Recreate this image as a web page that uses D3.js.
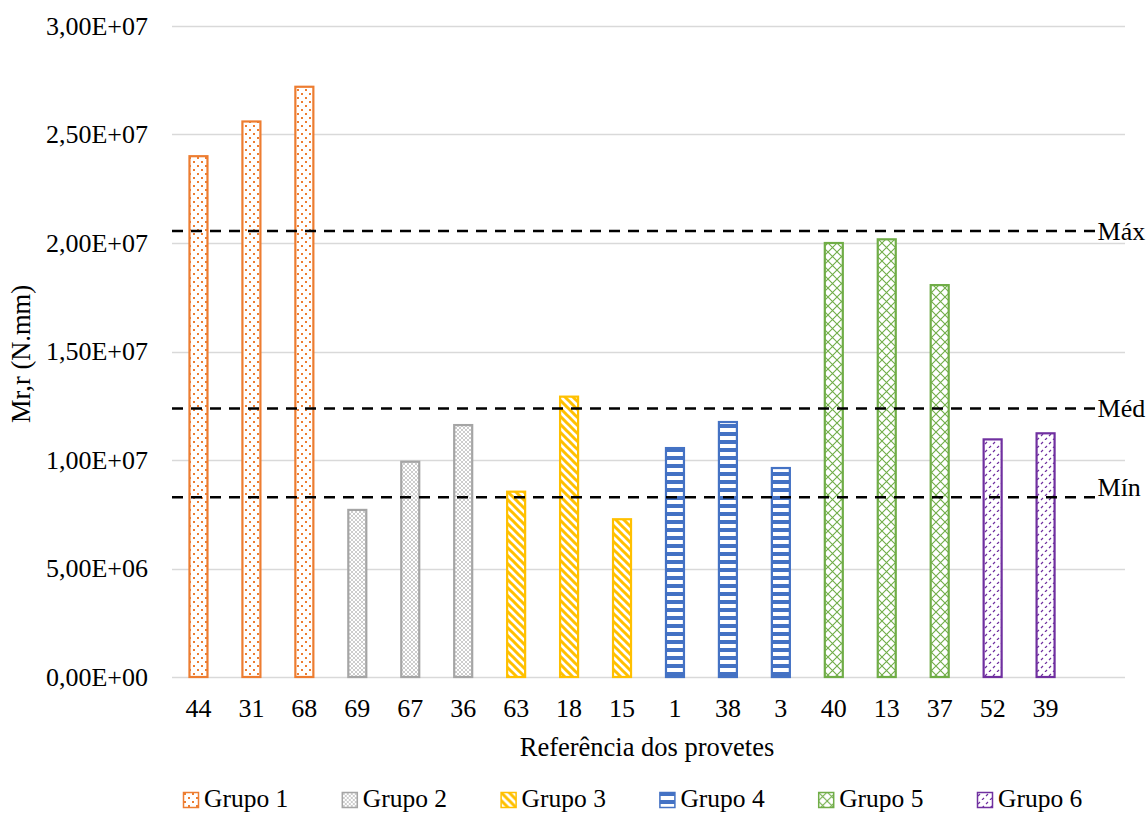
<!DOCTYPE html>
<html>
<head>
<meta charset="utf-8">
<script src="https://cdn.jsdelivr.net/npm/d3@7"></script>
<style>
  html, body { margin: 0; padding: 0; background: #fff; }
  svg text { font-family: "Liberation Serif", "Times New Roman", "DejaVu Serif", serif; }
</style>
</head>
<body>
<svg id="chart" width="1148" height="813"></svg>
<script>
// Specimen references (x axis), in plotting order
const categories = ["44", "31", "68", "69", "67", "36", "63", "18", "15", "1", "38", "3", "40", "13", "37", "52", "39"];
// Group index of each specimen (0..5)
const groupOf = [0, 0, 0, 1, 1, 1, 2, 2, 2, 3, 3, 3, 4, 4, 4, 5, 5];
// Mr,r values (N.mm)
const values = [2.40e7, 2.56e7, 2.72e7, 7.70e6, 9.92e6, 1.161e7, 8.54e6, 1.292e7, 7.27e6, 1.055e7, 1.175e7, 9.63e6, 2.00e7, 2.017e7, 1.806e7, 1.095e7, 1.123e7];
// Reference lines
const refNames = ["Máx", "Méd", "Mín"];
const refValues = [2.055e7, 1.237e7, 8.28e6];
// Groups
const groupNames = ["Grupo 1", "Grupo 2", "Grupo 3", "Grupo 4", "Grupo 5", "Grupo 6"];
const groupColors = ["#ED7D31", "#A5A5A5", "#FFC000", "#4472C4", "#70AD47", "#7030A0"];
// Y axis ticks
const yTicks = [0, 5e6, 1e7, 1.5e7, 2e7, 2.5e7, 3e7];
const yTickLabels = ["0,00E+00", "5,00E+06", "1,00E+07", "1,50E+07", "2,00E+07", "2,50E+07", "3,00E+07"];

(function draw() {
  const FS = 26;
  const svg = d3.select("#chart");
  const plotLeft = 172, plotRight = 1125, plotTop = 26, plotBottom = 677;

  // One extra empty slot at the end where the reference lines finish
  const x = d3.scaleBand().domain([...categories, ""]).range([plotLeft, plotRight]);
  const y = d3.scaleLinear().domain([0, 3e7]).range([plotBottom, plotTop]);
  const barW = 18;

  // Fill patterns per group
  const defs = svg.append("defs");
  function pattern(id, w, h, build) {
    const p = defs.append("pattern").attr("id", id).attr("patternUnits", "userSpaceOnUse")
      .attr("width", w).attr("height", h);
    p.append("rect").attr("width", w).attr("height", h).attr("fill", "#fff");
    build(p);
  }
  pattern("pg0", 8, 8, p => {
    p.append("rect").attr("x", 1).attr("y", 1).attr("width", 2).attr("height", 2).attr("fill", groupColors[0]);
    p.append("rect").attr("x", 5).attr("y", 5).attr("width", 2).attr("height", 2).attr("fill", groupColors[0]);
  });
  pattern("pg1", 4, 4, p => {
    p.append("path").attr("d", "M0,0L4,4M4,0L0,4").attr("stroke", "#B8B8B8").attr("stroke-width", 0.7);
  });
  pattern("pg2", 8, 8, p => {
    p.append("path").attr("d", "M-2,-2L10,10M-2,6L2,10M6,-2L10,2").attr("stroke", groupColors[2]).attr("stroke-width", 3);
  });
  pattern("pg3", 8, 8, p => {
    p.append("rect").attr("x", 0).attr("y", 0).attr("width", 8).attr("height", 4).attr("fill", groupColors[3]);
  });
  pattern("pg4", 9, 9, p => {
    p.append("path").attr("d", "M0,0L9,9M9,0L0,9").attr("stroke", groupColors[4]).attr("stroke-width", 1.1);
  });
  pattern("pg5", 8, 8, p => {
    p.append("path").attr("d", "M1,4L3,2M5,8L7,6").attr("stroke", groupColors[5]).attr("stroke-width", 1.2);
  });

  // Gridlines
  svg.append("g").selectAll("line").data(yTicks).join("line")
    .attr("x1", plotLeft).attr("x2", plotRight)
    .attr("y1", d => Math.round(y(d)) + 0.5).attr("y2", d => Math.round(y(d)) + 0.5)
    .attr("stroke", "#D9D9D9").attr("stroke-width", 1.3);

  // Y tick labels
  svg.append("g").selectAll("text").data(yTicks).join("text")
    .attr("x", 148).attr("y", d => y(d)).attr("dy", "0.33em")
    .attr("text-anchor", "end").attr("font-size", FS).attr("fill", "#000")
    .text((d, i) => yTickLabels[i]);

  // Bars
  svg.append("g").selectAll("rect").data(values).join("rect")
    .attr("x", (d, i) => x(categories[i]) + x.bandwidth() / 2 - barW / 2)
    .attr("width", barW)
    .attr("y", d => y(d))
    .attr("height", d => plotBottom - y(d))
    .attr("fill", (d, i) => `url(#pg${groupOf[i]})`)
    .attr("stroke", (d, i) => groupColors[groupOf[i]])
    .attr("stroke-width", 2.2);

  // X tick labels
  svg.append("g").selectAll("text").data(categories).join("text")
    .attr("x", d => x(d) + x.bandwidth() / 2).attr("y", 717)
    .attr("text-anchor", "middle").attr("font-size", FS).attr("fill", "#000")
    .text(d => d);

  // Reference lines
  const lineEnd = x("") + x.bandwidth() / 2;
  svg.append("g").selectAll("line").data(refValues).join("line")
    .attr("x1", plotLeft).attr("x2", lineEnd)
    .attr("y1", d => y(d)).attr("y2", d => y(d))
    .attr("stroke", "#000").attr("stroke-width", 2.6).attr("stroke-dasharray", "11,8");
  svg.append("g").selectAll("text").data(refValues).join("text")
    .attr("x", lineEnd - 1)
    .attr("y", (d, i) => i === 2 ? y(d) - 1 : y(d))
    .attr("dy", (d, i) => i === 2 ? "0" : "0.33em")
    .attr("font-size", FS).attr("fill", "#000")
    .text((d, i) => refNames[i]);

  // Axis titles
  svg.append("text").attr("x", 647).attr("y", 756).attr("text-anchor", "middle")
    .attr("font-size", 26.5).attr("fill", "#000").text("Referência dos provetes");
  svg.append("text").attr("transform", "translate(30,354) rotate(-90)").attr("text-anchor", "middle")
    .attr("font-size", 26.5).attr("fill", "#000").text("Mr,r (N.mm)");

  // Legend
  const legend = svg.append("g").selectAll("g").data(groupNames).join("g")
    .attr("transform", (d, i) => `translate(${183 + i * 158.8},0)`);
  legend.append("rect").attr("x", 0.5).attr("y", 792.5).attr("width", 15).attr("height", 15)
    .attr("fill", (d, i) => `url(#pg${i})`)
    .attr("stroke", (d, i) => groupColors[i]).attr("stroke-width", 1.5);
  legend.append("text").attr("x", 21).attr("y", 807).attr("font-size", 25.5).attr("fill", "#000").text(d => d);
})();
</script>
</body>
</html>
